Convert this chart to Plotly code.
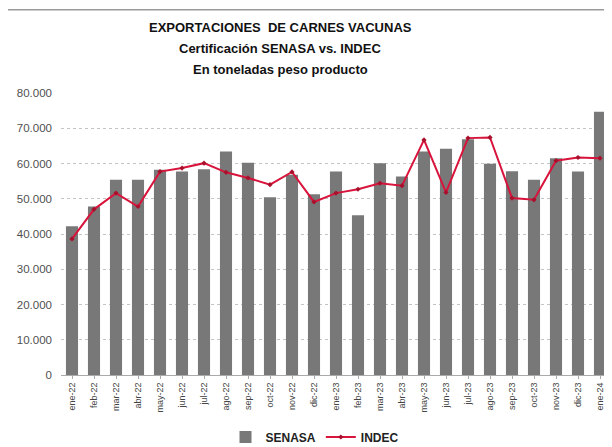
import plotly.graph_objects as go

meses = ["ene-22", "feb-22", "mar-22", "abr-22", "may-22", "jun-22", "jul-22", "ago-22",
         "sep-22", "oct-22", "nov-22", "dic-22", "ene-23", "feb-23", "mar-23", "abr-23",
         "may-23", "jun-23", "jul-23", "ago-23", "sep-23", "oct-23", "nov-23", "dic-23",
         "ene-24"]

senasa = [42200, 47800, 55400, 55400, 58200, 57700, 58400, 63400,
          60200, 50400, 56800, 51300, 57700, 45300, 60100, 56300,
          63400, 64200, 66900, 59900, 57800, 55400, 61500, 57700,
          74700]

indec = [38600, 47000, 51600, 47800, 57700, 58700, 60100, 57500,
         55900, 54000, 57600, 49100, 51600, 52700, 54400, 53700,
         66700, 51800, 67200, 67400, 50200, 49700, 60800, 61700,
         61500]

y_ticks = [0, 10000, 20000, 30000, 40000, 50000, 60000, 70000, 80000]

W, H = 612, 447
OFF = 8  # the page body adds an 8px margin around the figure

# plot area in page pixels, as measured on the reference
PL, PR, PT, PB = 61, 611, 93, 375.5


def px(x):
    return (x - PL) / (PR - PL)


def py(y):
    return (PB - y) / (PB - PT)


fig = go.Figure()

fig.add_trace(go.Bar(
    x=meses, y=senasa, name="<b>SENASA</b>",
    marker=dict(color="#787878", line=dict(width=0)),
))

fig.add_trace(go.Scatter(
    x=meses, y=indec, name="<b>INDEC</b>",
    mode="lines+markers",
    line=dict(color="#d8143c", width=2),
    marker=dict(size=4, color="#a8102c", symbol="diamond"),
))

titulo = ["EXPORTACIONES  DE CARNES VACUNAS",
          "Certificación SENASA vs. INDEC",
          "En toneladas peso producto"]
for i, t in enumerate(titulo):
    fig.add_annotation(
        text=f"<b>{t}</b>", xref="paper", yref="paper",
        x=px(280), y=py(27 + i * 21),
        showarrow=False, xanchor="center", yanchor="middle",
        font=dict(family="Liberation Sans, Arial", size=13, color="#111111"),
    )

# outer frame of the original image (only left and top edges are in view)
fig.add_shape(
    type="rect", xref="paper", yref="paper",
    x0=px(7), x1=px(640), y0=py(470), y1=py(9.5),
    line=dict(color="#9a9a9a", width=1.5),
)

fig.update_layout(
    width=W, height=H,
    margin=dict(l=PL - OFF, r=W - (PR - OFF), t=PT - OFF, b=H - (PB - OFF),
                autoexpand=False),
    paper_bgcolor="white", plot_bgcolor="white",
    separators=",.",
    bargap=0.45,
    showlegend=True,
    legend=dict(
        orientation="h", xanchor="center", yanchor="middle",
        xref="container", yref="container",
        x=(315 - OFF) / W, y=1 - (437 - OFF) / H,
        font=dict(family="Liberation Sans, Arial", size=12, color="#222222"),
        tracegroupgap=0, itemwidth=30,
    ),
    font=dict(family="Liberation Sans, Arial", size=10, color="#444444"),
    xaxis=dict(
        automargin=False, range=[-0.5, len(meses) - 0.5],
        tickangle=-90, tickfont=dict(size=9, color="#444444"),
        showline=True, linecolor="#aaaaaa", linewidth=1,
        ticks="outside", ticklen=3, tickcolor="#aaaaaa",
        showgrid=False,
    ),
    yaxis=dict(
        automargin=False,
        range=[0, 80000], tickvals=y_ticks, tickformat=",.0f",
        showgrid=True, gridcolor="#c4c4c4", griddash="dot", gridwidth=1,
        zeroline=False, showline=False,
        tickfont=dict(size=11.5, color="#505050"),
        ticklabelstandoff=8,
    ),
)

fig.write_html("out.html")
